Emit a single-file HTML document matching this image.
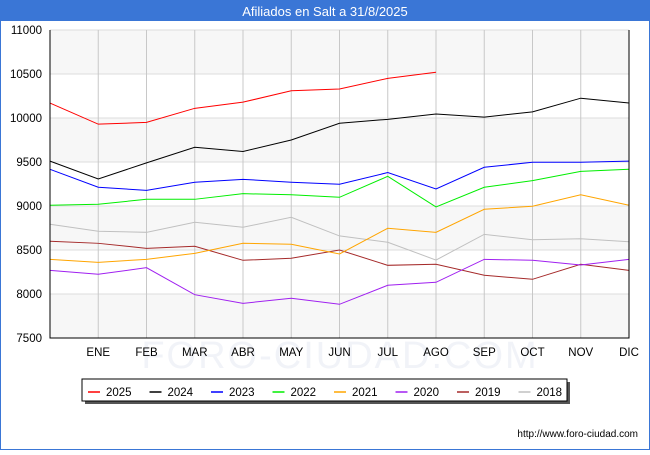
<!DOCTYPE html>
<html><head><meta charset="utf-8"><style>
body{margin:0;width:650px;height:450px;overflow:hidden;background:#fff;font-family:"Liberation Sans",sans-serif}
</style></head><body>
<svg width="650" height="450" xmlns="http://www.w3.org/2000/svg">
<rect x="0.5" y="0.5" width="649" height="449" fill="#fff" stroke="#3a76d6"/>
<rect x="0" y="0" width="650" height="21" fill="#3a76d6"/>
<text x="325" y="16" text-anchor="middle" fill="#fff" font-size="13">Afiliados en Salt a 31/8/2025</text>
<g id="plot"></g>
<text x="638" y="437" text-anchor="end" font-size="10" fill="#000">http://www.foro-ciudad.com</text>
</svg>
<script>
const months=["","ENE","FEB","MAR","ABR","MAY","JUN","JUL","AGO","SEP","OCT","NOV","DIC"];
const yTicks=[7500,8000,8500,9000,9500,10000,10500,11000];
const seriesNames=["2025","2024","2023","2022","2021","2020","2019","2018"];
const seriesColors=["#ff0000","#000000","#0000ff","#00ee00","#ffa500","#a020f0","#a52a2a","#c0c0c0"];
const s2025=[10170,9930,9950,10110,10180,10310,10330,10450,10520];
const s2024=[9510,9307,9490,9667,9620,9750,9940,9985,10045,10010,10070,10225,10170];
const s2023=[9417,9213,9178,9270,9303,9270,9247,9380,9193,9440,9497,9497,9510];
const s2022=[9008,9020,9076,9076,9140,9128,9099,9337,8989,9213,9288,9394,9417];
const s2021=[8394,8360,8394,8462,8576,8565,8455,8747,8701,8963,8997,9128,9008];
const s2020=[8269,8224,8299,7992,7894,7951,7883,8099,8133,8394,8383,8330,8394];
const s2019=[8599,8576,8519,8542,8383,8406,8500,8326,8338,8213,8167,8338,8269];
const s2018=[8792,8713,8701,8815,8758,8872,8660,8588,8386,8678,8617,8628,8594];
const allSeries=[s2025,s2024,s2023,s2022,s2021,s2020,s2019,s2018];
const NS="http://www.w3.org/2000/svg";
const L=50,R=629,T=30,B=338,ymin=7500,ymax=11000;
const x=i=>L+i*(R-L)/12;
const y=v=>B-(v-ymin)/(ymax-ymin)*(B-T);
const g=document.getElementById('plot');
function el(t,a,p){const e=document.createElementNS(NS,t);for(const k in a)e.setAttribute(k,a[k]);(p||g).appendChild(e);return e;}
for(let i=0;i<yTicks.length-1;i++){
  if((yTicks.length-2-i)%2===0){
    const r=el('rect',{x:L,y:y(yTicks[i+1]),width:R-L,height:y(yTicks[i])-y(yTicks[i+1]),fill:'#f7f7f7'});
    
    
  }
}
const wm=el('text',{x:340,y:368,'text-anchor':'middle','font-size':'38',fill:'#f1f3f8','letter-spacing':'2'});
wm.textContent='FORO-CIUDAD.COM';


yTicks.forEach(v=>{
  const ln=el('line',{x1:L,x2:R,y1:y(v),y2:y(v),stroke:'#dddddd'});
  
  
  const t=el('text',{x:L-8,y:y(v)+4,'text-anchor':'end','font-size':'11.5',fill:'#000'});
  t.textContent=v;
  
  
});
months.forEach((m,i)=>{
  if(i>0){
    const ln=el('line',{x1:x(i),x2:x(i),y1:T,y2:B,stroke:'#c8c8c8'});
    
    
  }
  const t=el('text',{x:x(i),y:356,'text-anchor':'middle','font-size':'11.5',fill:'#000'});
  t.textContent=m;
  
  
});
for(let s=allSeries.length-1;s>=0;s--){
  const pts=allSeries[s].map((v,i)=>x(i)+','+y(v)).join(' ');
  const p=el('polyline',{points:pts,fill:'none',stroke:seriesColors[s],'stroke-width':'1'});
  
  
}
const ax=el('path',{d:`M${L},${T}V${B}H${R}V${T}`,fill:'none',stroke:'#000','stroke-width':'1'});


const sh=el('rect',{x:85,y:382,width:485,height:22,fill:'#555'});


const lb=el('rect',{x:82,y:379,width:485,height:22,fill:'#fff',stroke:'#000'});


seriesNames.forEach((n,i)=>{
  const lx=88+i*61.5;
  const ln=el('line',{x1:lx,x2:lx+12,y1:392,y2:392,stroke:seriesColors[i],'stroke-width':'1.5'});
  
  
  const t=el('text',{x:lx+18,y:396,'font-size':'11.5',fill:'#000'});
  t.textContent=n;
  
  
});
</script>
</body></html>
